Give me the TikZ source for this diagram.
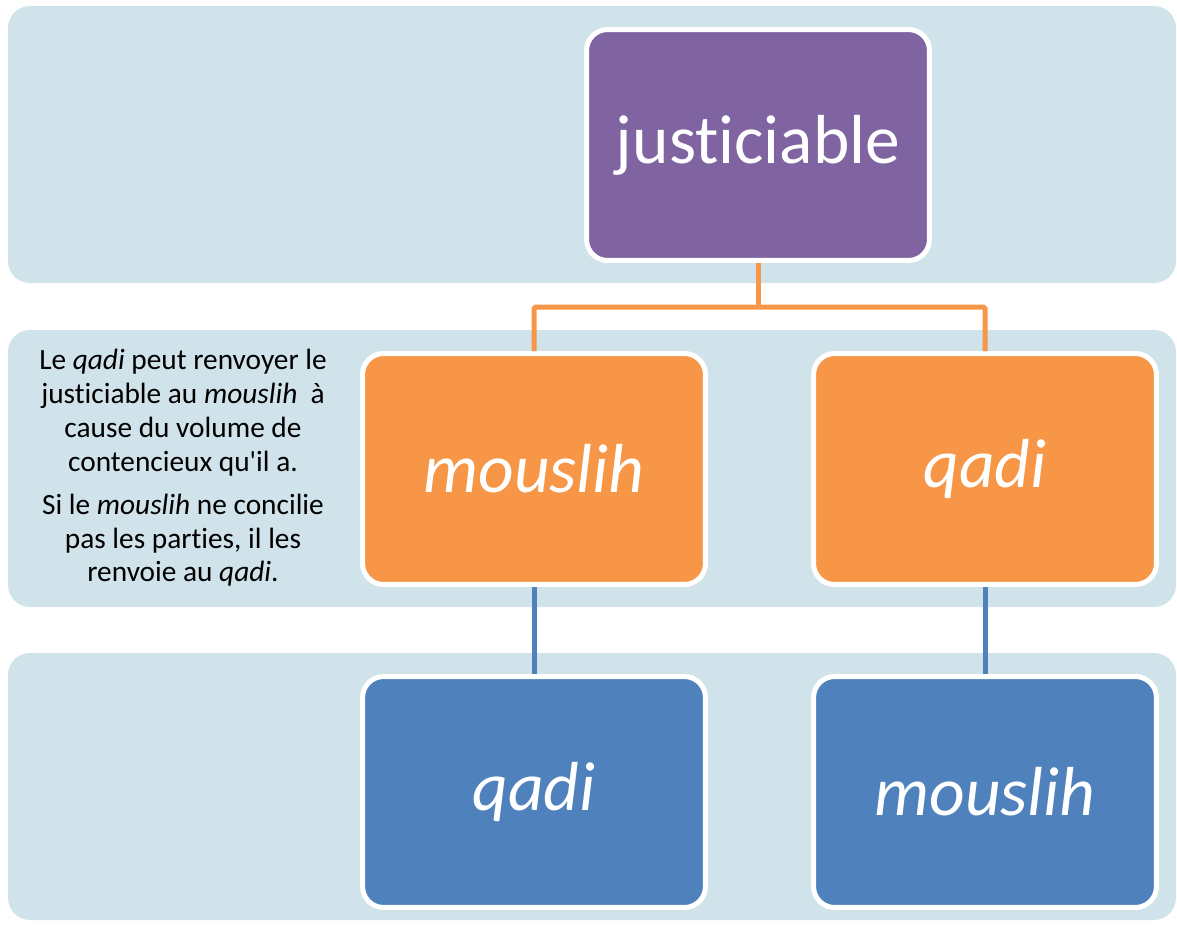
\documentclass[tikz,border=0pt]{standalone}
\usepackage{fontspec}
\setmainfont{Carlito}[Ligatures={TeX,NoCommon}]
\usepackage{xcolor}
\usepackage{tikz}
\usetikzlibrary{positioning, calc}
\definecolor{medband}{RGB}{208,226,234}
\definecolor{medpurple}{RGB}{128,100,162}
\definecolor{medorange}{RGB}{247,150,70}
\definecolor{medblue}{RGB}{79,129,189}
\tikzset{
  band/.style={
    fill=medband, draw=none, rounded corners=0.44cm
  },
  topblock/.style={
    rectangle, rounded corners=0.42cm, draw=white, line width=0.1cm,
    fill=medpurple, minimum width=6.86cm, minimum height=4.62cm,
    align=center, text=white, font=\fontsize{39.5}{46}\selectfont
  },
  midblock/.style={
    topblock, fill=medorange, font=\fontsize{39.5}{46}\selectfont\itshape
  },
  lowblock/.style={
    topblock, fill=medblue, font=\fontsize{39.5}{46}\selectfont\itshape
  },
  note/.style={
    rectangle, draw=none, fill=none, align=center, text=black,
    font=\fontsize{16.7}{19.3}\selectfont
  },
  orangelink/.style={draw=medorange, line width=0.1cm, rounded corners=1pt},
  bluelink/.style={draw=medblue, line width=0.1cm}
}

\begin{document}
\begin{tikzpicture}[x=0.02cm, y=-0.02cm]
\useasboundingbox (0,0) rectangle (1177,924);

% Background bands
\fill[band] (8,6) rectangle (1176,283);
\fill[band] (8,330) rectangle (1176,607);
\fill[band] (8,653) rectangle (1176,920);

% Level 1
\node[topblock] (just) at (758,145) {justiciable};

% Level 2
\node[midblock] (mouslihA) at (534,469) {mouslih};
\node[midblock] (qadiA) at (985,469) {qadi};
\node[note] (remark) at (183,468) {Le \textit{qadi} peut renvoyer le\\
  justiciable au \textit{mouslih}\ \ à\\
  cause du volume de\\
  contencieux qu\textquotesingle il a.\\[5pt]
  Si le \textit{mouslih} ne concilie\\
  pas les parties, il les\\
  renvoie au \textit{qadi}.};

% Level 3
\node[lowblock] (qadiB) at (534,792) {qadi};
\node[lowblock] (mouslihB) at (985,792) {mouslih};

% Connectors
\coordinate (fork) at (758,307);
\draw[orangelink] (just.south) -- (fork);
\draw[orangelink] (mouslihA.north) |- (fork) -| (qadiA.north);
\draw[bluelink] (mouslihA.south) -- (qadiB.north);
\draw[bluelink] (qadiA.south) -- (mouslihB.north);

\end{tikzpicture}
\end{document}
